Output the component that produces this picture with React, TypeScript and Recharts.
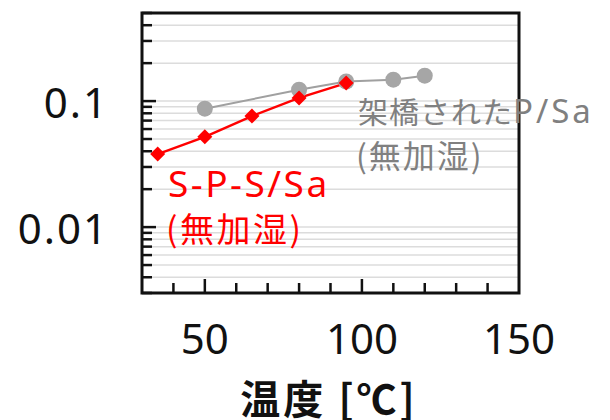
import React from "react";
import {
  LineChart,
  Line,
  XAxis,
  YAxis,
  CartesianGrid,
  ReferenceArea,
} from "recharts";

// S-P-S/Sa (no humidification)
const spsTemp = [35, 50, 65, 80, 95];
const spsSa = [0.038, 0.052, 0.076, 0.106, 0.139];

// crosslinked P/Sa (no humidification)
const pTemp = [50, 80, 95, 110, 120];
const pSa = [0.087, 0.123, 0.143, 0.148, 0.159];

const xTicks = [30, 40, 50, 60, 70, 80, 90, 100, 110, 120, 130, 140, 150];
const xLabels = [50, 100, 150];
const xMajor = [50, 100];

const yTicks = [
  0.003, 0.004, 0.005, 0.006, 0.007, 0.008, 0.009,
  0.01, 0.02, 0.03, 0.04, 0.05, 0.06, 0.07, 0.08, 0.09,
  0.1, 0.2, 0.3, 0.4, 0.5,
];
const yLabels = [0.01, 0.1];

const spsData = spsTemp.map((t, i) => ({ t, v: spsSa[i] }));
const pData = pTemp.map((t, i) => ({ t, v: pSa[i] }));

const FONT = "'Noto Sans', 'Noto Sans CJK JP', sans-serif";
const JP = "'Noto Sans CJK JP', 'Noto Sans', sans-serif";

const YTick = (props: any) => {
  const { x, y, payload } = props;
  const v = payload.value;
  const major = yLabels.includes(v);
  return (
    <g>
      <line x1={x} x2={x + (major ? 14 : 10)} y1={y} y2={y} stroke="#111" strokeWidth={2.5} />
      {major && (
        <text x={x - 33} y={y + 17} textAnchor="end" fontSize={42} fontFamily={FONT} fill="#111" letterSpacing={2}>
          {String(v)}
        </text>
      )}
    </g>
  );
};

const XTick = (props: any) => {
  const { x, y, payload } = props;
  const v = payload.value;
  const edge = v === xTicks[0] || v === xTicks[xTicks.length - 1];
  return (
    <g>
      {!edge && (
        <line x1={x} x2={x} y1={y} y2={y - (xMajor.includes(v) ? 14 : 10)} stroke="#111" strokeWidth={2.5} />
      )}
      {xLabels.includes(v) && (
        <text x={x} y={y + 61} textAnchor="middle" fontSize={42} fontFamily={FONT} fill="#111">
          {String(v)}
        </text>
      )}
    </g>
  );
};

const Diamond = (props: any) => {
  const { cx, cy } = props;
  const s = 7.5;
  return (
    <polygon
      points={`${cx},${cy - s} ${cx + s},${cy} ${cx},${cy + s} ${cx - s},${cy}`}
      fill="#ff0000"
    />
  );
};

const Circle = (props: any) => {
  const { cx, cy } = props;
  return <circle cx={cx} cy={cy} r={8} fill="#a6a6a6" />;
};

export default function App() {
  return (
    <div style={{ position: "absolute", left: 0, top: 0, width: 610, height: 420, background: "#fff" }}>
      <LineChart
        width={610}
        height={420}
        margin={{ top: 13, right: 91, bottom: 27, left: 42 }}
      >
        <CartesianGrid vertical={false} stroke="#dcdcdc" strokeWidth={1.5} />
        <XAxis
          type="number"
          dataKey="t"
          domain={[30, 150]}
          ticks={xTicks}
          height={100}
          tickSize={0}
          tickMargin={0}
          tickLine={false}
          axisLine={false}
          tick={(p: any) => <XTick {...p} />}
          interval={0}
          allowDataOverflow
        />
        <YAxis
          type="number"
          scale="log"
          domain={[0.003, 0.5]}
          ticks={yTicks}
          width={100}
          tickSize={0}
          tickMargin={0}
          tickLine={false}
          axisLine={false}
          tick={(p: any) => <YTick {...p} />}
          interval={0}
          allowDataOverflow
        />
        <ReferenceArea
          x1={30}
          x2={150}
          y1={0.003}
          y2={0.5}
          fill="none"
          stroke="#111"
          strokeWidth={3}
          ifOverflow="visible"
        />
        <Line
          data={pData}
          dataKey="v"
          type="linear"
          stroke="#a0a0a0"
          strokeWidth={2}
          dot={<Circle />}
          activeDot={false}
          isAnimationActive={false}
        />
        <Line
          data={spsData}
          dataKey="v"
          type="linear"
          stroke="#ff0000"
          strokeWidth={2.4}
          dot={<Diamond />}
          activeDot={false}
          isAnimationActive={false}
        />
      </LineChart>
      <svg
        width={610}
        height={420}
        style={{ position: "absolute", left: 0, top: 0, pointerEvents: "none" }}
      >
        <text x={358} y={123} fontSize={30} fontFamily={FONT} fill="#808080" letterSpacing={1}>
          架橋された<tspan fontSize={33} letterSpacing={3}>P/Sa</tspan>
        </text>
        <text x={356} y={168} fontSize={32} fontFamily={JP} fill="#808080" letterSpacing={2}>
          (無加湿)
        </text>
        <text x={168} y={197} fontSize={37} fontFamily={FONT} fill="#ff0000" letterSpacing={2.5}>
          S-P-S/Sa
        </text>
        <text x={166} y={242} fontSize={34} fontFamily={JP} fill="#ff0000" letterSpacing={2.5}>
          (無加湿)
        </text>
        <text x={329} y={414} textAnchor="middle" fontSize={40} fontWeight="bold" fontFamily={JP} fill="#111" letterSpacing={3}>
          温度 [℃]
        </text>
      </svg>
    </div>
  );
}
